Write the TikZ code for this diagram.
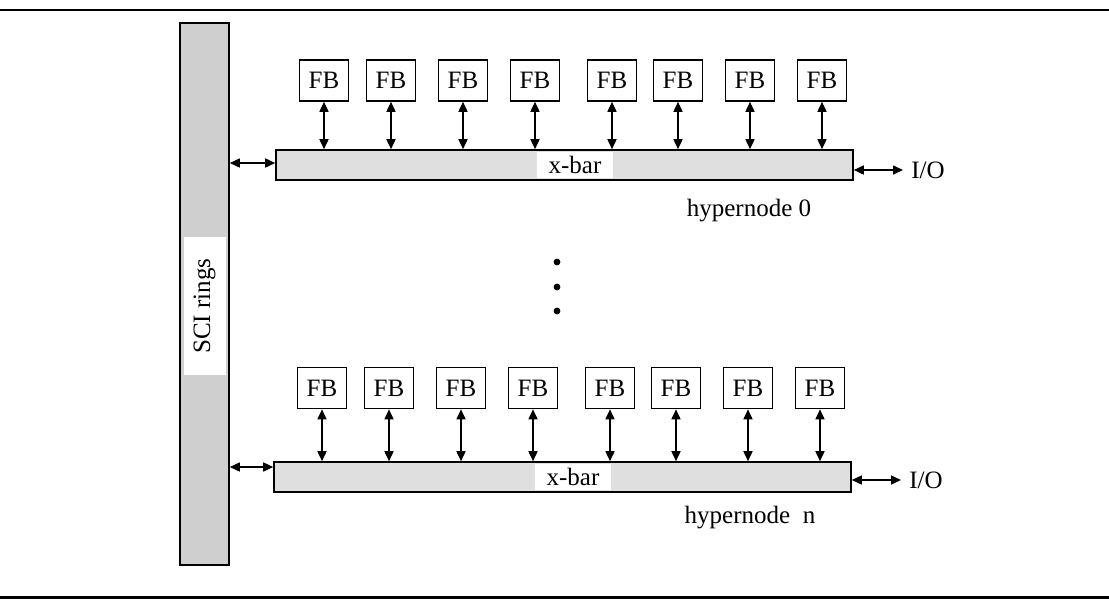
\documentclass[tikz,border=0pt]{standalone}
\usepackage{fontspec}
\setmainfont{Liberation Serif}
\usetikzlibrary{arrows.meta}

\tikzset{
    fbbox/.style={draw, thick, fill=white, minimum width=24.5pt, minimum height=20.5pt, inner sep=0pt},
    xbarbox/.style={draw, thick, fill=gray!25, minimum width=288.5pt, minimum height=15pt, inner sep=0pt},
    ringbar/.style={draw, thick, fill=gray!38, minimum width=24.5pt, minimum height=271pt, inner sep=0pt},
    patch/.style={fill=white, inner sep=0pt},
    link/.style={thick, {Triangle[length=5pt,width=4.5pt]}-{Triangle[length=5pt,width=4.5pt]}},
}

\begin{document}
\begin{tikzpicture}[x=0.5pt, y=-0.5pt, font=\fontsize{12.5}{14}\selectfont]
    \useasboundingbox (0,0) rectangle (1109,601);

    % rules above and below
    \draw[line width=1.2pt] (0,10) -- (1109,10);
    \draw[line width=1.5pt] (0,597) -- (1109,597);

    % SCI rings
    \node[ringbar] (sci) at (204.5,294) {};
    \node[patch, minimum width=21pt, minimum height=69pt] (scilab) at (204.5,306)
        {\rotatebox{90}{SCI rings}};

    % hypernode 0
    \node[xbarbox] (bar0) at (564.5,165) {};
    \node[patch, minimum width=38pt, minimum height=13pt] at (575,165) {x-bar};
    \foreach \i/\x in {1/324, 2/391, 3/463, 4/535, 5/612, 6/678, 7/750, 8/822} {
        \node[fbbox] (fbA\i) at (\x,80.5) {FB};
        \draw[link] (fbA\i.south) -- (fbA\i.south |- bar0.north);
    }
    \draw[link] (sci.east |- 0,163) -- (bar0.west |- 0,163);
    \coordinate (ioA) at (903,170);
    \draw[link] (bar0.east |- ioA) -- (ioA);
    \node[anchor=west, inner sep=4pt] at (ioA) {I/O};
    \node at (749,211) {hypernode 0};

    % more hypernodes
    \foreach \y in {262, 287, 311}
        \fill (557,\y) circle (1.7pt);

    % hypernode n
    \node[xbarbox] (barN) at (562.5,477) {};
    \node[patch, minimum width=38pt, minimum height=13pt] at (573,477) {x-bar};
    \foreach \i/\x in {1/322, 2/389, 3/461, 4/533, 5/610, 6/676, 7/748, 8/820} {
        \node[fbbox] (fbN\i) at (\x,388) {FB};
        \draw[link] (fbN\i.south) -- (fbN\i.south |- barN.north);
    }
    \draw[link] (sci.east |- 0,467) -- (barN.west |- 0,467);
    \coordinate (ioN) at (901,480);
    \draw[link] (barN.east |- ioN) -- (ioN);
    \node[anchor=west, inner sep=4pt] at (ioN) {I/O};
    \node at (750,518) {hypernode~~n};
\end{tikzpicture}
\end{document}
